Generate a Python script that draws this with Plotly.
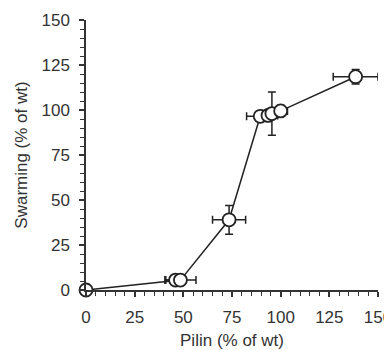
import plotly.graph_objects as go

pilin = [0, 46, 48.5, 73.5, 89.5, 93.5, 95.5, 100, 138.5]
swarming = [0, 5.5, 5.5, 39, 96.5, 97, 98, 99.5, 118.5]
pilin_err = [0, 5, 8, 8.5, 7, 5, 5, 3.5, 11.5]
swarming_err = [0, 1, 1, 8, 2, 3, 12, 3, 4]
tick_vals = [0, 25, 50, 75, 100, 125, 150]

fam = "Arial, Liberation Sans, sans-serif"
tick_font = dict(family=fam, size=17, color="#333")
title_font = dict(family=fam, size=17, color="#333")

fig = go.Figure(go.Scatter(
    x=pilin, y=swarming, mode="lines+markers",
    line=dict(color="#222", width=1.5),
    marker=dict(size=13, color="white", line=dict(color="#222", width=1.8)),
    error_x=dict(type="data", array=pilin_err, color="#222", thickness=1.5, width=4),
    error_y=dict(type="data", array=swarming_err, color="#222", thickness=1.5, width=4),
    cliponaxis=False, showlegend=False,
))

axis_common = dict(
    range=[0, 150], tickvals=tick_vals, showgrid=False, zeroline=False,
    showline=True, linecolor="#333", linewidth=1.5,
    ticks="outside", ticklen=5, tickwidth=1.5, tickcolor="#333",
    minor=dict(dtick=5, ticks="outside", ticklen=4, tickwidth=1, tickcolor="#333"),
    tickfont=tick_font, automargin=False, ticklabeloverflow="allow",
)

# page body has an 8px default margin, so the figure is sized to fit the window
fig.update_layout(
    width=384, height=342,
    margin=dict(l=78, r=14, t=12, b=60),
    plot_bgcolor="white", paper_bgcolor="white",
    font=tick_font,
    xaxis=dict(**axis_common, title=dict(text="Pilin (% of wt)", font=title_font, standoff=10), ticklabelstandoff=6),
    yaxis=dict(**axis_common, title=dict(text="Swarming (% of wt)", font=title_font, standoff=10), ticklabelstandoff=6),
)

fig.write_html("out.html")
